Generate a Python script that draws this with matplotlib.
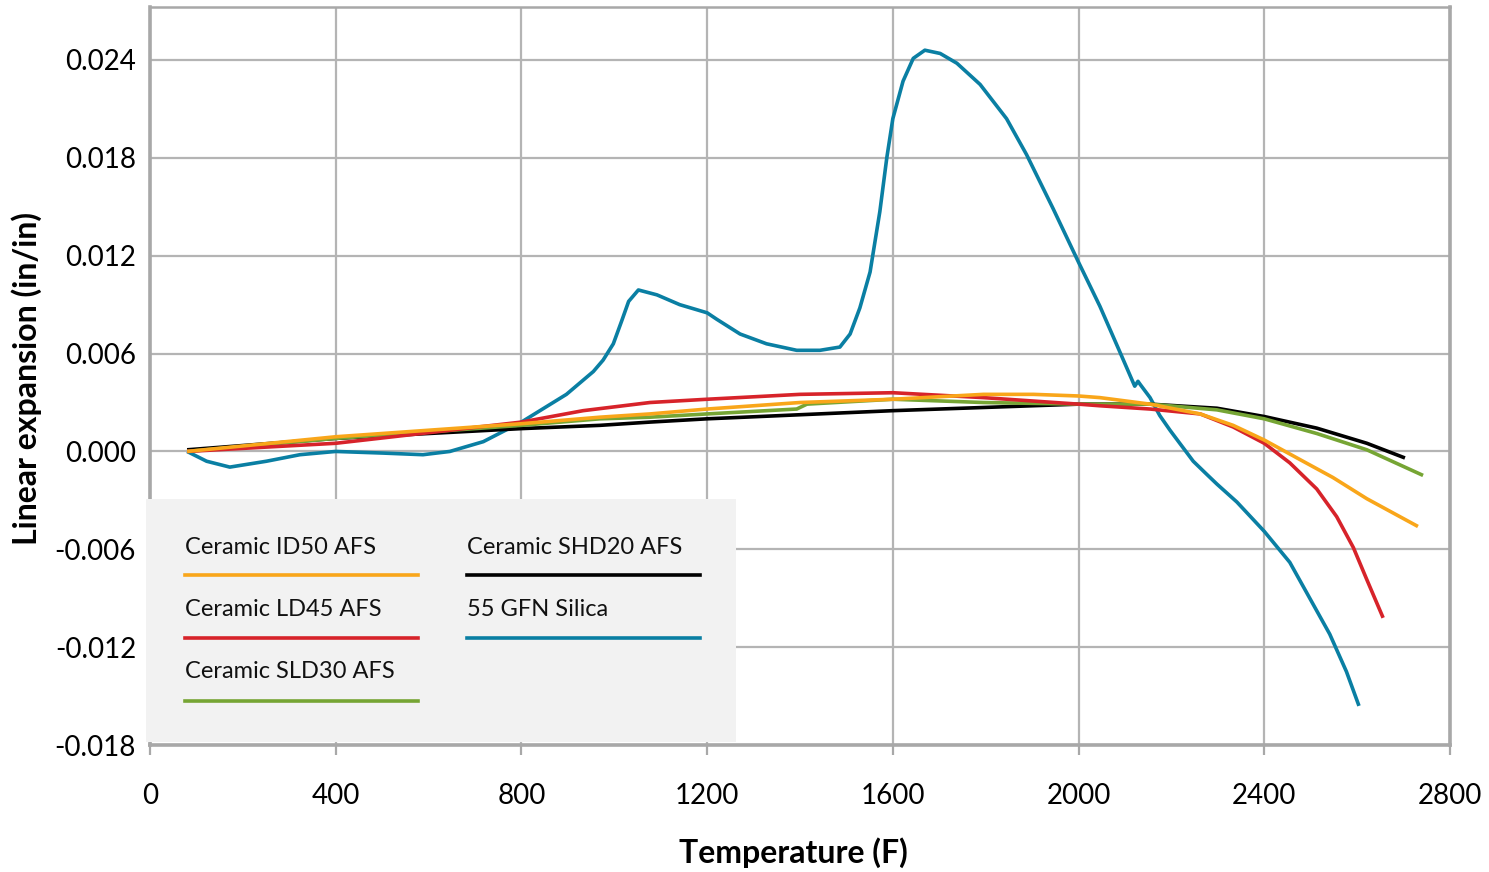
import matplotlib
import matplotlib.pyplot as plt
from matplotlib.patches import Rectangle
from matplotlib.lines import Line2D

matplotlib.use('Agg')

plt.rcParams['font.family'] = ['Lato', 'DejaVu Sans']

# --- data ---
series_names = ['Ceramic ID50 AFS', 'Ceramic LD45 AFS', 'Ceramic SLD30 AFS',
                'Ceramic SHD20 AFS', '55 GFN Silica']
series_colors = ['#f9a61a', '#d7232a', '#76a534', '#000000', '#0a7fa3']

id50_t = [80, 400, 800, 969, 1077, 1200, 1400, 1600, 1795, 1903, 2000, 2046, 2154, 2262, 2333,
          2400, 2477, 2548, 2621, 2731]
id50_v = [0.0, 0.0009, 0.0017, 0.0021, 0.0023, 0.0026, 0.0030, 0.0032, 0.0035, 0.0035, 0.0034,
          0.0033, 0.0029, 0.0023, 0.0016, 0.0007, -0.0005, -0.0016, -0.0029, -0.0046]

ld45_t = [80, 400, 800, 933, 1077, 1200, 1400, 1600, 1795, 2000, 2046, 2154, 2262, 2333, 2400,
          2455, 2513, 2556, 2592, 2620, 2656]
ld45_v = [0.0, 0.0005, 0.0018, 0.0025, 0.0030, 0.0032, 0.0035, 0.0036, 0.0033, 0.0029, 0.0028,
          0.0026, 0.0023, 0.0015, 0.0005, -0.0007, -0.0023, -0.0040, -0.0059, -0.0078, -0.0102]

sld30_t = [80, 400, 800, 969, 1077, 1200, 1393, 1415, 1600, 1795, 2000, 2154, 2298, 2400, 2513,
           2621, 2742]
sld30_v = [0.0, 0.0008, 0.0016, 0.0020, 0.0021, 0.0023, 0.0026, 0.0029, 0.0032, 0.0030, 0.0029,
           0.0029, 0.00255, 0.0020, 0.0011, 0.0001, -0.00147]

shd20_t = [80, 400, 800, 969, 1077, 1200, 1600, 2000, 2154, 2298, 2400, 2513, 2621, 2703]
shd20_v = [0.0001, 0.0008, 0.0014, 0.0016, 0.0018, 0.0020, 0.0025, 0.0029, 0.0029, 0.00265,
           0.00214, 0.00143, 0.0005, -0.0004]

silica_t = [80, 122, 172, 251, 323, 400, 502, 588, 646, 718, 800, 897, 955, 976, 998, 1016, 1031,
            1052, 1092, 1141, 1200, 1221, 1271, 1328, 1393, 1443, 1486, 1508, 1529, 1551, 1572,
            1587, 1600, 1622, 1644, 1669, 1702, 1738, 1788, 1845, 1888, 1945, 2000, 2046, 2089,
            2121, 2128, 2133, 2154, 2175, 2197, 2218, 2247, 2276, 2298, 2341, 2400, 2455, 2498,
            2541, 2577, 2604]
silica_v = [0.0, -0.0006, -0.00096, -0.0006, -0.0002, 0.0, -0.0001, -0.0002, 0.0, 0.0006,
            0.0018, 0.0035, 0.0049, 0.0056, 0.0066, 0.0080, 0.0092, 0.0099, 0.0096, 0.0090,
            0.0085, 0.0081, 0.0072, 0.0066, 0.0062, 0.0062, 0.0064, 0.0072, 0.0088, 0.0110,
            0.0147, 0.0180, 0.0204, 0.0227, 0.0241, 0.0246, 0.0244, 0.0238, 0.0225, 0.0204,
            0.0182, 0.0149, 0.0116, 0.0089, 0.0061, 0.0040, 0.0043, 0.0041, 0.0033, 0.0022,
            0.0013, 0.0005, -0.0006, -0.0014, -0.0020, -0.0031, -0.0049, -0.0068, -0.0090,
            -0.0112, -0.0135, -0.0156]

x_ticks = [0, 400, 800, 1200, 1600, 2000, 2400, 2800]
y_ticks = [-0.018, -0.012, -0.006, 0.0, 0.006, 0.012, 0.018, 0.024]
y_tick_labels = ['-0.018', '-0.012', '-0.006', '0.000', '0.006', '0.012', '0.018', '0.024']

fig = plt.figure(figsize=(14.89, 8.72), dpi=100)
ax = fig.add_axes([0.1007, 0.1456, 0.8731, 0.8464])

grid_color = '#b4b4b4'
spine_color = '#a8a8a8'

xs = [silica_t, shd20_t, sld30_t, ld45_t, id50_t]
ys = [silica_v, shd20_v, sld30_v, ld45_v, id50_v]
order = [4, 3, 2, 1, 0]
for i, t, v in zip(order, xs, ys):
    ax.plot(t, v, color=series_colors[i], lw=2.6, solid_capstyle='butt',
            solid_joinstyle='round', zorder=3)

ax.set_xlim(0, 2800)
ax.set_ylim(-0.018, 0.02725)
ax.set_xticks(x_ticks)
ax.set_yticks(y_ticks)
ax.set_yticklabels(y_tick_labels)
ax.grid(True, color=grid_color, lw=1.6, zorder=0)
ax.set_axisbelow(True)

ax.tick_params(axis='x', direction='out', length=7, width=1.6, color=spine_color,
               labelsize=20, pad=20)
ax.tick_params(axis='y', length=0, labelsize=20, pad=10)

for side in ['left', 'right', 'bottom']:
    ax.spines[side].set_color(spine_color)
    ax.spines[side].set_linewidth(2.6)
ax.spines['top'].set_color(spine_color)
ax.spines['top'].set_linewidth(1.8)

ax.set_xlabel('Temperature (F)', fontsize=23, fontweight='bold')
ax.set_ylabel('Linear expansion (in/in)', fontsize=23, fontweight='bold')
ax.xaxis.set_label_coords(0.495, -0.125)
ax.yaxis.set_label_coords(-0.083, 0.497)

# legend panel: gray box with labels above their line samples
ax.add_patch(Rectangle((-0.003, 0.004), 0.454, 0.329, transform=ax.transAxes,
                       facecolor='#f2f2f2', edgecolor='none', zorder=5, clip_on=False))
col_x = [0.027, 0.244]
row_text_y = [0.268, 0.184, 0.099]
row_line_y = [0.230, 0.145, 0.0596]
slots = [(0, 0), (0, 1), (0, 2), (1, 0), (1, 1)]
for i, (c, r) in enumerate(slots):
    ax.text(col_x[c], row_text_y[r], series_names[i], transform=ax.transAxes,
            fontsize=17, va='center', ha='left', color='#111111', zorder=6)
    ax.add_line(Line2D([col_x[c], col_x[c] + 0.179], [row_line_y[r], row_line_y[r]],
                       transform=ax.transAxes, color=series_colors[i], lw=2.6, zorder=6))

plt.savefig('out.png', dpi=100)
plt.close()
